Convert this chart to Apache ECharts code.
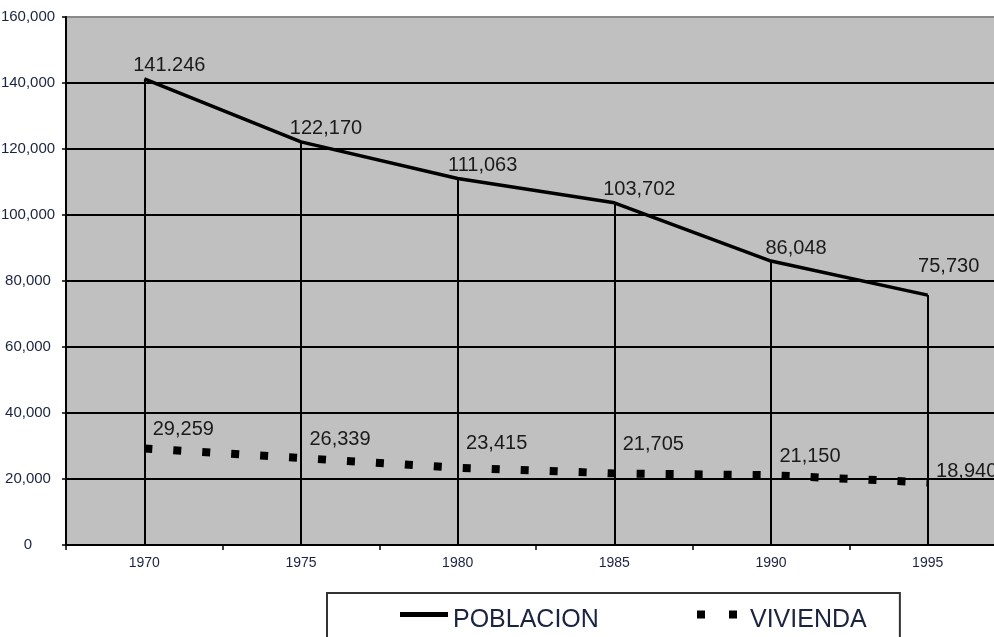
<!DOCTYPE html>
<html>
<head>
<meta charset="utf-8">
<script src="https://cdn.jsdelivr.net/npm/echarts@6/dist/echarts.min.js"></script>
<style>
  html, body { margin: 0; padding: 0; background: #fff; overflow: hidden; }
  #chart { width: 1006px; height: 637px; }
</style>
</head>
<body>
<div id="chart"></div>
<script>
// datos
const years = ['1970', '1975', '1980', '1985', '1990', '1995']
const poblacion = [141246, 122170, 111063, 103702, 86048, 75730]
const poblacionLabels = ['141.246', '122,170', '111,063', '103,702', '86,048', '75,730']
const vivienda = [29259, 26339, 23415, 21705, 21150, 18940]
const viviendaLabels = ['29,259', '26,339', '23,415', '21,705', '21,150', '18,940']

const font = 'Liberation Sans, Arial, sans-serif'
const navy = '#1a2340'

// pequeños ajustes verticales de las etiquetas de vivienda (px)
const viviendaLabelShift = [0, 0, -5, -10, 0, 8]

const chart = echarts.init(document.getElementById('chart'), null, { renderer: 'canvas' })

const legendText = (padLeft) => ({
  color: navy,
  fontSize: 25,
  fontFamily: font,
  rich: {
    t: { color: navy, fontSize: 25, fontFamily: font, padding: [12, 0, 0, padLeft] },
  },
})

const option = {
  animation: false,
  backgroundColor: '#fff',
  grid: {
    left: 66,
    right: 0,
    top: 17,
    bottom: 92,
    outerBoundsMode: 'none',
    show: true,
    backgroundColor: '#c0c0c0',
    borderWidth: 0,
  },
  xAxis: {
    type: 'category',
    data: years,
    axisLine: { lineStyle: { color: '#000', width: 2 } },
    axisTick: { show: true, length: 5, lineStyle: { color: '#000', width: 1.5 } },
    axisLabel: { margin: 11, color: navy, fontSize: 14, fontFamily: font },
    splitLine: { show: false },
  },
  yAxis: {
    type: 'value',
    min: 0,
    max: 160000,
    interval: 20000,
    axisLine: { show: true, lineStyle: { color: '#000', width: 2 } },
    axisTick: { show: true, length: 4, lineStyle: { color: '#000', width: 1.5 } },
    axisLabel: {
      margin: 38,
      align: 'center',
      color: navy,
      fontSize: 15,
      fontFamily: font,
      formatter: (v) => v.toLocaleString('en-US'),
    },
    splitLine: {
      lineStyle: {
        color: ['#000', '#000', '#000', '#000', '#000', '#000', '#000', '#000', '#8a8a8a'],
        width: 2,
      },
    },
  },
  legend: [
    {
      data: [{ name: 'POBLACION', icon: 'rect' }],
      left: 327,
      top: 593,
      padding: [15, 301, 30, 73],
      itemWidth: 48,
      itemHeight: 5,
      borderColor: '#333',
      borderWidth: 2,
      itemStyle: { color: '#000' },
      formatter: '{t|{name}}',
      textStyle: legendText(0),
    },
    {
      data: [{ name: 'VIVIENDA', icon: 'path://M0,0h8v8h-8zM32,0h8v8h-8z' }],
      left: 697,
      top: 608,
      padding: 0,
      itemWidth: 40,
      itemHeight: 8,
      itemStyle: { color: '#000' },
      formatter: '{t|{name}}',
      textStyle: legendText(8),
    },
  ],
  series: [
    {
      name: 'POBLACION',
      type: 'line',
      data: poblacion.map((v, i) => ({
        value: v,
        label: i === poblacion.length - 1 ? { offset: [21, -14] } : undefined,
      })),
      symbol: 'circle',
      symbolSize: 0,
      itemStyle: { color: '#000', borderWidth: 0 },
      lineStyle: { color: '#000', width: 3.5 },
      label: {
        show: true,
        position: 'top',
        offset: [25, 2],
        color: '#1a1a1a',
        fontSize: 20,
        fontFamily: font,
        formatter: (p) => poblacionLabels[p.dataIndex],
      },
      markLine: {
        silent: true,
        symbol: ['none', 'none'],
        label: { show: false },
        lineStyle: { color: '#000', width: 2, type: 'solid' },
        data: poblacion.map((v, i) => [{ coord: [i, v] }, { coord: [i, 0] }]),
      },
    },
    {
      name: 'VIVIENDA',
      type: 'line',
      data: vivienda.map((v, i) => ({
        value: v,
        label: { offset: [39, -4 + viviendaLabelShift[i]] },
      })),
      symbol: 'circle',
      symbolSize: 0,
      itemStyle: { color: '#000', borderWidth: 0 },
      lineStyle: { color: '#000', width: 8, type: [8, 21], cap: 'butt' },
      label: {
        show: true,
        position: 'top',
        color: '#1a1a1a',
        fontSize: 20,
        fontFamily: font,
        formatter: (p) => viviendaLabels[p.dataIndex],
      },
    },
  ],
}

chart.setOption(option)
</script>
</body>
</html>
